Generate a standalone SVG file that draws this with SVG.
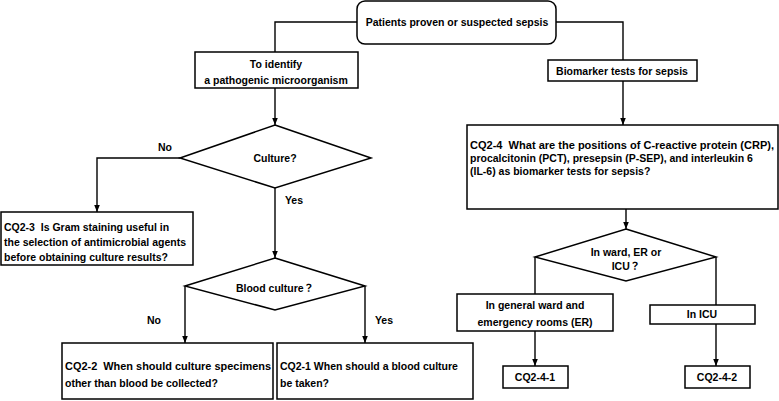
<svg xmlns="http://www.w3.org/2000/svg" width="779" height="401" viewBox="0 0 779 401">
<defs>
<marker id="arr" viewBox="0 0 8 8" refX="8" refY="4" markerWidth="7" markerHeight="7" markerUnits="userSpaceOnUse" orient="auto">
<path d="M0,0.8 L8,4 L0,7.2 Z" fill="#000"/>
</marker>
</defs>
<style>
text{font-family:"Liberation Sans","Noto Sans CJK JP",sans-serif;font-size:10.5px;font-weight:bold;fill:#000;white-space:pre}
.c{text-anchor:middle}
.box{fill:#fff;stroke:#000;stroke-width:1.5}
.ln{fill:none;stroke:#000;stroke-width:1.4}
.ar{marker-end:url(#arr)}
</style>
<rect width="779" height="401" fill="#fff"/>
<g id="connectors">
<path class="ln" d="M357,22 H275 V52"/>
<path class="ln" d="M556,22 H623 V60"/>
<path class="ln ar" d="M275,88 V125"/>
<path class="ln ar" d="M180,158 H97 V212"/>
<path class="ln ar" d="M275,188 V258"/>
<path class="ln ar" d="M185,286 V343"/>
<path class="ln ar" d="M365,286 V343"/>
<path class="ln ar" d="M623,81 V125"/>
<path class="ln ar" d="M626,209 V229"/>
<path class="ln" d="M535,257 V294"/>
<path class="ln" d="M716,257 V305"/>
<path class="ln ar" d="M535,331 V366"/>
<path class="ln ar" d="M716,324 V366"/>
<text class="c" x="165" y="151">No</text>
<text class="c" x="294" y="204">Yes</text>
<text class="c" x="154" y="324">No</text>
<text class="c" x="384" y="324">Yes</text>
</g>
<g id="start">
<rect class="box" x="357" y="1" width="199" height="43" rx="8"/>
<text class="c" x="457" y="26">Patients proven or suspected sepsis</text>
</g>
<g id="identify">
<rect class="box" x="195" y="52" width="163" height="36"/>
<text class="c" x="276" y="68">To identify</text>
<text class="c" x="276" y="84">a pathogenic microorganism</text>
</g>
<g id="culture">
<polygon class="box" points="275,125 371,158 275,188 180,158"/>
<text class="c" x="275" y="162">Culture?</text>
</g>
<g id="cq2-3">
<rect class="box" x="1" y="212" width="192" height="53"/>
<text x="4" y="231">CQ2-3  Is Gram staining useful in</text>
<text x="4" y="246">the selection of antimicrobial agents</text>
<text x="4" y="261">before obtaining culture results?</text>
</g>
<g id="blood">
<polygon class="box" points="275,258 365,286 275,310 185,286"/>
<text class="c" x="275" y="292">Blood culture？</text>
</g>
<g id="cq2-2">
<rect class="box" x="62" y="343" width="211" height="56"/>
<text x="65" y="370" textLength="206" lengthAdjust="spacingAndGlyphs">CQ2-2  When should culture specimens</text>
<text x="65" y="387">other than blood be collected?</text>
</g>
<g id="cq2-1">
<rect class="box" x="277" y="343" width="196" height="56"/>
<text x="280" y="370">CQ2-1 When should a blood culture</text>
<text x="280" y="387">be taken?</text>
</g>
<g id="biomarker">
<rect class="box" x="548" y="60" width="149" height="21"/>
<text class="c" x="622" y="75">Biomarker tests for sepsis</text>
</g>
<g id="cq2-4">
<rect class="box" x="467" y="125" width="311" height="84"/>
<text x="470" y="149" textLength="304" lengthAdjust="spacingAndGlyphs">CQ2-4  What are the positions of C-reactive protein (CRP),</text>
<text x="470" y="162">procalcitonin (PCT), presepsin (P-SEP), and interleukin 6</text>
<text x="470" y="175">(IL-6) as biomarker tests for sepsis?</text>
</g>
<g id="ward">
<polygon class="box" points="626,229 716,257 626,281 535,257"/>
<text class="c" x="626" y="256">In ward, ER or</text>
<text class="c" x="626" y="270">ICU？</text>
</g>
<g id="general">
<rect class="box" x="457" y="294" width="156" height="37"/>
<text class="c" x="535" y="309">In general ward and</text>
<text class="c" x="535" y="326">emergency rooms (ER)</text>
</g>
<g id="icu">
<rect class="box" x="650" y="305" width="105" height="19"/>
<text class="c" x="702" y="318">In ICU</text>
</g>
<g id="cq2-4-1">
<rect class="box" x="503" y="366" width="65" height="22"/>
<text class="c" x="535" y="381">CQ2-4-1</text>
</g>
<g id="cq2-4-2">
<rect class="box" x="685" y="366" width="65" height="22"/>
<text class="c" x="717" y="381">CQ2-4-2</text>
</g>
</svg>
